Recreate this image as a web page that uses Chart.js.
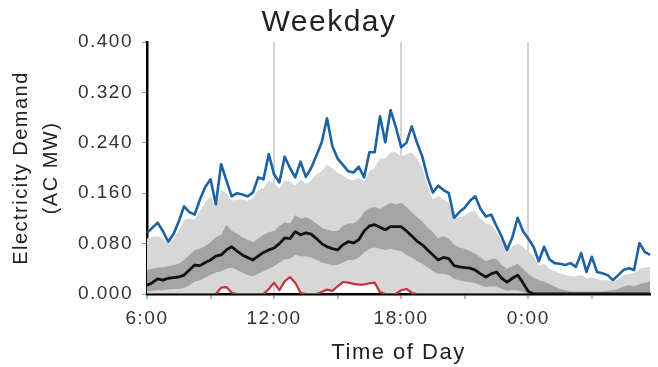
<!DOCTYPE html>
<html>
<head>
<meta charset="utf-8">
<script src="https://cdn.jsdelivr.net/npm/chart.js@4/dist/chart.umd.min.js"></script>
<style>
body{margin:0;background:#fff;}
canvas{display:block;}
</style>
</head>
<body>
<canvas id="demandChart" width="658" height="367"></canvas>
<script>
// 15 minute steps, 6:00 to 5:45 next morning
const timeLabels=[
'6:00','6:15','6:30','6:45','7:00','7:15','7:30','7:45','8:00','8:15','8:30','8:45',
'9:00','9:15','9:30','9:45','10:00','10:15','10:30','10:45','11:00','11:15','11:30','11:45',
'12:00','12:15','12:30','12:45','13:00','13:15','13:30','13:45','14:00','14:15','14:30','14:45',
'15:00','15:15','15:30','15:45','16:00','16:15','16:30','16:45','17:00','17:15','17:30','17:45',
'18:00','18:15','18:30','18:45','19:00','19:15','19:30','19:45','20:00','20:15','20:30','20:45',
'21:00','21:15','21:30','21:45','22:00','22:15','22:30','22:45','23:00','23:15','23:30','23:45',
'0:00','0:15','0:30','0:45','1:00','1:15','1:30','1:45','2:00','2:15','2:30','2:45',
'3:00','3:15','3:30','3:45','4:00','4:15','4:30','4:45','5:00','5:15','5:30','5:45'];
const shownLabels=['6:00','12:00','18:00','0:00'];
const gridLabels=['12:00','18:00','0:00'];
const yTicks=[0,0.08,0.16,0.24,0.32,0.40];

const maxDemand=[
0.097,0.105,0.113,0.100,0.083,0.095,0.115,0.139,0.130,0.126,0.150,0.170,
0.182,0.142,0.206,0.180,0.155,0.160,0.158,0.155,0.161,0.185,0.182,0.222,
0.190,0.177,0.218,0.200,0.185,0.210,0.186,0.200,0.220,0.241,0.279,0.235,
0.215,0.205,0.195,0.193,0.202,0.185,0.225,0.225,0.282,0.241,0.292,0.265,
0.233,0.240,0.266,0.240,0.218,0.185,0.161,0.172,0.165,0.160,0.121,0.130,
0.137,0.148,0.155,0.135,0.123,0.126,0.108,0.091,0.070,0.090,0.121,0.100,
0.088,0.075,0.052,0.075,0.055,0.049,0.048,0.046,0.049,0.043,0.065,0.035,
0.059,0.035,0.033,0.030,0.022,0.030,0.038,0.041,0.038,0.081,0.067,0.062];

const upper90=[
0.088,0.090,0.092,0.088,0.080,0.088,0.100,0.118,0.120,0.118,0.132,0.145,
0.155,0.138,0.165,0.160,0.148,0.150,0.150,0.148,0.152,0.165,0.168,0.180,
0.175,0.168,0.180,0.178,0.172,0.182,0.175,0.180,0.190,0.195,0.205,0.200,
0.192,0.188,0.182,0.180,0.185,0.178,0.195,0.200,0.215,0.215,0.225,0.225,
0.218,0.222,0.225,0.215,0.200,0.172,0.150,0.155,0.150,0.145,0.120,0.122,
0.125,0.130,0.132,0.120,0.112,0.110,0.098,0.085,0.068,0.075,0.080,0.075,
0.068,0.060,0.045,0.048,0.040,0.036,0.033,0.030,0.028,0.028,0.030,0.025,
0.026,0.024,0.022,0.022,0.020,0.024,0.030,0.032,0.033,0.040,0.042,0.043];

const upper75=[
0.038,0.040,0.042,0.042,0.044,0.046,0.048,0.054,0.062,0.070,0.072,0.076,
0.082,0.090,0.094,0.110,0.100,0.096,0.090,0.086,0.082,0.088,0.094,0.098,
0.100,0.108,0.114,0.112,0.125,0.120,0.122,0.118,0.112,0.105,0.102,0.100,
0.100,0.108,0.112,0.112,0.118,0.130,0.136,0.138,0.135,0.140,0.145,0.142,
0.145,0.138,0.130,0.122,0.115,0.105,0.098,0.088,0.092,0.088,0.078,0.074,
0.072,0.068,0.064,0.058,0.052,0.055,0.056,0.046,0.040,0.044,0.048,0.040,
0.032,0.026,0.022,0.020,0.016,0.012,0.008,0.006,0.004,0.004,0.004,0.004,
0.004,0.004,0.004,0.005,0.006,0.008,0.012,0.014,0.012,0.016,0.018,0.020];

const lower25=[
0.004,0.005,0.006,0.006,0.007,0.008,0.008,0.010,0.014,0.020,0.022,0.026,
0.030,0.034,0.036,0.040,0.042,0.038,0.034,0.030,0.028,0.032,0.036,0.040,
0.044,0.050,0.055,0.056,0.062,0.060,0.060,0.058,0.054,0.050,0.048,0.046,
0.046,0.050,0.054,0.054,0.058,0.066,0.072,0.074,0.072,0.070,0.072,0.070,
0.068,0.062,0.058,0.052,0.048,0.042,0.036,0.032,0.032,0.030,0.024,0.022,
0.020,0.019,0.017,0.014,0.011,0.012,0.012,0.008,0.005,0.006,0.006,0.003,
0,0,0,0,0,0,0,0,0,0,0,0,
0,0,0,0,0,0,0,0,0,0,0,0];

const medianDemand=[
0.014,0.018,0.024,0.022,0.025,0.026,0.027,0.030,0.038,0.046,0.045,0.050,
0.054,0.060,0.062,0.070,0.075,0.068,0.062,0.058,0.054,0.060,0.066,0.070,
0.073,0.080,0.089,0.088,0.099,0.094,0.097,0.095,0.088,0.080,0.075,0.072,
0.070,0.078,0.083,0.081,0.086,0.100,0.108,0.110,0.106,0.102,0.107,0.107,
0.107,0.100,0.092,0.084,0.078,0.070,0.062,0.054,0.058,0.056,0.045,0.043,
0.042,0.041,0.038,0.032,0.027,0.032,0.035,0.025,0.019,0.025,0.030,0.018,
0.004,0,0,0,0,0,0,0,0,0,0,0,
0,0,0,0,0,0,0,0,0,0,0,0];

const minDemand=[
0,0,0,0,0,0,0,0,0,0,0,0,
0,0,0.010,0.011,0.002,0,0,0,0,0,0,0.008,
0.018,0.006,0.020,0.027,0.018,0.002,0,0,0,0.003,0.007,0.005,
0.012,0.019,0.018,0.016,0.015,0.015,0.017,0.018,0.003,0,0,0,
0.006,0.008,0.002,0,0,0,0,0,0,0,0,0,
0,0,0,0,0,0,0,0,0,0,0,0,
0,0,0,0,0,0,0,0,0,0,0,0,
0,0,0,0,0,0,0,0,0,0,0,0];

const font="'Liberation Sans', Arial, Helvetica, sans-serif";
// the source figure uses loosely tracked lettering
const tracking={id:'tracking',beforeDraw(c){c.ctx.letterSpacing='1.5px';}};

new Chart(document.getElementById('demandChart'),{
type:'line',
data:{labels:timeLabels,datasets:[
{label:'90th',data:upper90,fill:5,backgroundColor:'#d7d7d7',borderColor:'transparent',borderWidth:0,pointRadius:0,order:6},
{label:'75th',data:upper75,fill:2,backgroundColor:'#a4a4a4',borderColor:'transparent',borderWidth:0,pointRadius:0,order:5},
{label:'25th',data:lower25,fill:false,borderColor:'transparent',borderWidth:0,pointRadius:0,order:4},
{label:'Max',data:maxDemand,fill:false,borderColor:'#1d62a3',borderWidth:2.6,pointRadius:0,order:2},
{label:'Median',data:medianDemand,fill:false,borderColor:'#111',borderWidth:2.8,pointRadius:0,order:1},
{label:'Min',data:minDemand,fill:false,borderColor:'#c8323c',borderWidth:2.2,pointRadius:0,order:3}
]},
options:{
responsive:false,animation:false,
layout:{padding:0},
elements:{line:{tension:0,borderJoinStyle:'round'}},
plugins:{
legend:{display:false},tooltip:{enabled:false},
title:{display:true,text:'Weekday',color:'#222',font:{family:font,size:30,weight:'normal'},padding:{top:5,bottom:1}}
},
scales:{
x:{
afterFit:s=>{s.height=73;},
border:{color:'#000',width:2.5},
grid:{
color:c=>gridLabels.includes(timeLabels[c.index])?'#d4d4d4':'transparent',
lineWidth:2,
tickColor:c=>c.index%12===0?'#9a9a9a':'transparent',
tickLength:5,tickWidth:1.5
},
ticks:{autoSkip:false,maxRotation:0,padding:8,color:'#333',font:{family:font,size:19},
callback:(v,i)=>shownLabels.includes(timeLabels[i])?timeLabels[i]:''},
title:{display:true,text:'Time of Day',color:'#222',font:{family:font,size:22},padding:{top:0,bottom:1}}
},
y:{
min:0,max:0.4,
afterFit:s=>{s.width=147;},
afterBuildTicks:s=>{s.ticks=yTicks.map(v=>({value:v}));},
border:{color:'#000',width:2.5},
grid:{drawOnChartArea:false,color:'#9a9a9a',tickLength:5},
ticks:{padding:9,color:'#333',font:{family:font,size:19},callback:v=>v.toFixed(3)},
title:{display:true,text:['Electricity Demand','(AC MW)'],color:'#222',font:{family:font,size:20,lineHeight:1.5},padding:{top:6,bottom:0}}
}
}
},
plugins:[tracking]
});
</script>
</body>
</html>
